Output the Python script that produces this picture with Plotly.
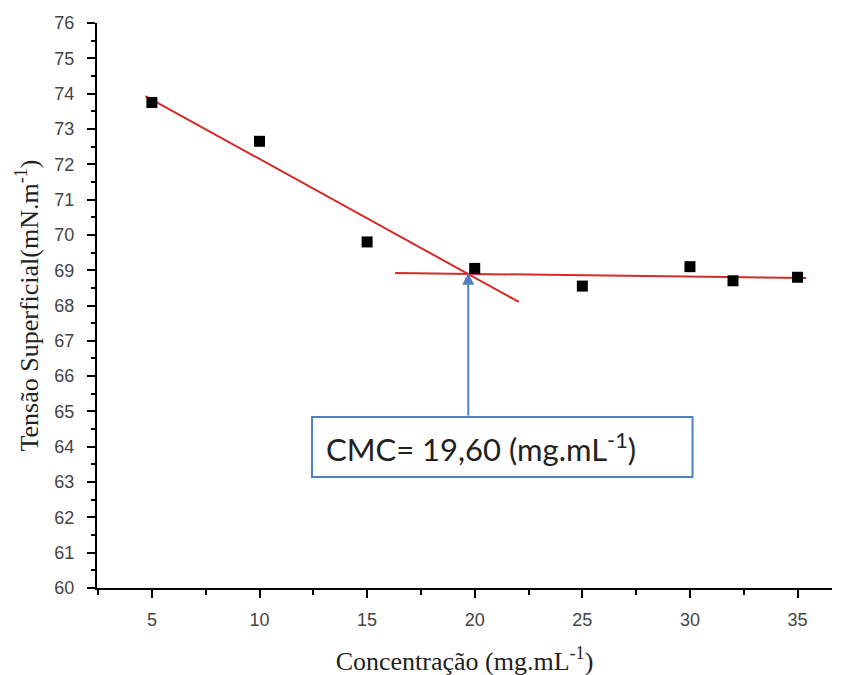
import plotly.graph_objects as go

# data
conc = [5, 10, 15, 20, 25, 30, 32, 35]
tension = [73.75, 72.65, 69.8, 69.05, 68.55, 69.1, 68.7, 68.8]

fit1_x = [4.7, 22.05]
fit1_y = [73.93, 68.1]
fit2_x = [16.3, 35.4]
fit2_y = [68.92, 68.78]

cmc_x = 19.7
cmc_y = 68.93
cmc_text = "CMC= 19,60 (mg.mL<sup>-1</sup>)"

x_ticks = [5, 10, 15, 20, 25, 30, 35]
y_ticks = list(range(60, 77))

box_x = [12.44, 30.12]
box_y = [63.14, 64.84]

red = "#d42a2a"
blue = "#4f81bd"

fig = go.Figure()
fig.add_trace(go.Scatter(x=fit1_x, y=fit1_y, mode="lines",
                         line=dict(color=red, width=2), showlegend=False))
fig.add_trace(go.Scatter(x=fit2_x, y=fit2_y, mode="lines",
                         line=dict(color=red, width=2), showlegend=False))
fig.add_trace(go.Scatter(x=conc, y=tension, mode="markers",
                         marker=dict(symbol="square", size=11, color="black"),
                         showlegend=False))

fig.add_shape(type="rect", xref="x", yref="y",
              x0=box_x[0], x1=box_x[1], y0=box_y[0], y1=box_y[1],
              line=dict(color=blue, width=2), fillcolor="white", layer="above")

fig.add_annotation(x=box_x[0], y=(box_y[0] + box_y[1]) / 2, xref="x", yref="y",
                   text=cmc_text, showarrow=False, xanchor="left", yanchor="middle",
                   xshift=12,
                   font=dict(family="Lato, Open Sans, sans-serif", size=31, color="#222"))

fig.add_annotation(x=cmc_x, y=cmc_y, ax=cmc_x, ay=box_y[1],
                   xref="x", yref="y", axref="x", ayref="y",
                   showarrow=True, arrowhead=2, arrowsize=1.2, arrowwidth=2,
                   arrowcolor=blue, text="")

tick_font = dict(family="Liberation Sans, Arial, sans-serif", size=18, color="#444")
title_font = dict(family="Liberation Serif, Times New Roman, serif", size=26, color="#222")

fig.update_xaxes(range=[2.45, 36.6], tickvals=x_ticks, ticks="outside", ticklen=8,
                 tickwidth=2, tickcolor="black", showline=True, linecolor="black",
                 linewidth=2, showgrid=False, zeroline=False, tickfont=tick_font,
                 automargin=False, ticklabelstandoff=6,
                 minor=dict(dtick=2.5, tick0=2.5, ticks="outside", ticklen=5,
                            tickwidth=2, tickcolor="black", showgrid=False),
                 title=dict(text="Concentração (mg.mL<sup>-1</sup>)", font=title_font,
                            standoff=23))
fig.update_yaxes(range=[60, 76], tickvals=y_ticks, ticks="outside", ticklen=8,
                 tickwidth=2, tickcolor="black", showline=True, linecolor="black",
                 linewidth=2, showgrid=False, zeroline=False, tickfont=tick_font,
                 automargin=False, ticklabelstandoff=9,
                 minor=dict(dtick=0.5, ticks="outside", ticklen=4, tickwidth=1.5,
                            tickcolor="black", showgrid=False),
                 title=dict(text="Tensão Superficial(mN.m<sup>-1</sup>)", font=title_font,
                            standoff=8))

fig.update_layout(width=845, height=675, plot_bgcolor="white", paper_bgcolor="white",
                  margin=dict(l=89, r=21, t=15, b=95))

fig.write_html("out.html")
